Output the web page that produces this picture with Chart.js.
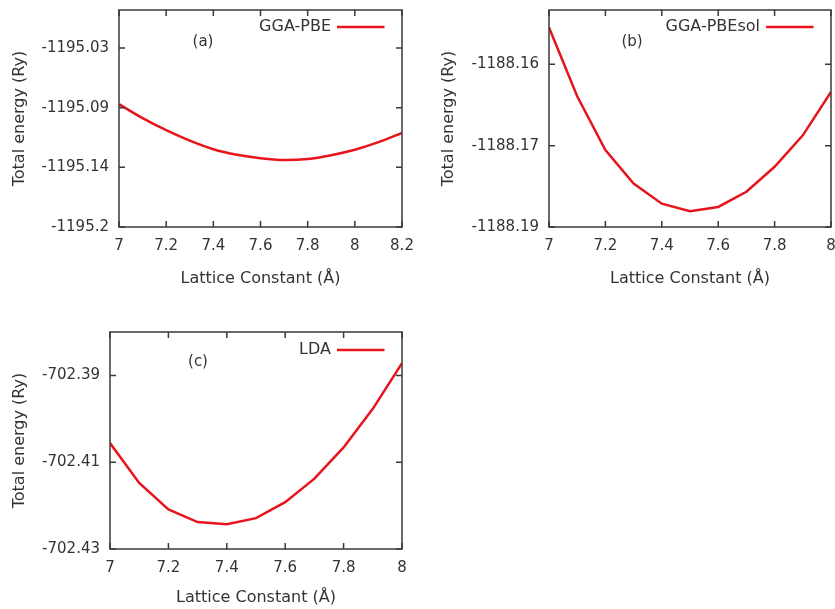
<!DOCTYPE html>
<html>
<head>
    <title>Total energy vs lattice constant</title>
    <script src="https://cdn.jsdelivr.net/npm/chart.js"></script>
    <style>
        html, body { margin: 0; padding: 0; background: #fff; overflow: hidden; width: 835px; height: 609px; }
        canvas { position: absolute; }
    </style>
</head>
<body>
<canvas id="chartA" width="420" height="300" style="left:0;top:0"></canvas>
<canvas id="chartB" width="440" height="300" style="left:420px;top:0"></canvas>
<canvas id="chartC" width="420" height="289" style="left:0;top:320px"></canvas>
<script>
    // (a) GGA-PBE
    const latticeA = [7.0, 7.1, 7.2, 7.3, 7.4, 7.5, 7.6, 7.7, 7.8, 7.9, 8.0, 8.1, 8.2];
    const energyA = [-1195.0868, -1195.0997, -1195.1108, -1195.1204, -1195.1283, -1195.1334, -1195.1366,
        -1195.1383, -1195.1373, -1195.1338, -1195.1288, -1195.1218, -1195.1132];
    const xTicksA = [7, 7.2, 7.4, 7.6, 7.8, 8, 8.2];
    const xLabelsA = ['7', '7.2', '7.4', '7.6', '7.8', '8', '8.2'];
    const yTicksA = [-1195.2, -1195.145, -1195.09, -1195.035];
    const yLabelsA = ['-1195.2', '-1195.14', '-1195.09', '-1195.03'];

    // (b) GGA-PBEsol
    const latticeB = [7.0, 7.1, 7.2, 7.3, 7.4, 7.5, 7.6, 7.7, 7.8, 7.9, 8.0];
    const energyB = [-1188.1532, -1188.1659, -1188.1758, -1188.1820, -1188.1857, -1188.1871,
        -1188.1863, -1188.1835, -1188.1789, -1188.1731, -1188.1651];
    const xTicksB = [7, 7.2, 7.4, 7.6, 7.8, 8];
    const xLabelsB = ['7', '7.2', '7.4', '7.6', '7.8', '8'];
    const yTicksB = [-1188.19, -1188.175, -1188.16];
    const yLabelsB = ['-1188.19', '-1188.17', '-1188.16'];

    // (c) LDA
    const latticeC = [7.0, 7.1, 7.2, 7.3, 7.4, 7.5, 7.6, 7.7, 7.8, 7.9, 8.0];
    const energyC = [-702.4056, -702.4148, -702.4209, -702.4238, -702.4243, -702.4229,
        -702.4192, -702.4138, -702.4066, -702.3977, -702.3872];
    const xTicksC = [7, 7.2, 7.4, 7.6, 7.8, 8];
    const xLabelsC = ['7', '7.2', '7.4', '7.6', '7.8', '8'];
    const yTicksC = [-702.43, -702.41, -702.39];
    const yLabelsC = ['-702.43', '-702.41', '-702.39'];

    const TEXT = '#333333';
    const FONT = {family: 'DejaVu Sans', size: 15};
    const TITLE_FONT = {family: 'DejaVu Sans', size: 16};

    // gnuplot style box: frame, inward ticks on all sides, panel tag and key
    const framePlugin = {
        id: 'frame',
        afterDatasetsDraw(chart, args, opts) {
            const {ctx, chartArea: a, scales: {x, y}} = chart;
            ctx.save();
            ctx.strokeStyle = '#3a3a3a';
            ctx.lineWidth = 1.5;
            ctx.strokeRect(a.left, a.top, a.width, a.height);
            ctx.beginPath();
            x.ticks.forEach(t => {
                const px = x.getPixelForValue(t.value);
                ctx.moveTo(px, a.bottom); ctx.lineTo(px, a.bottom - 6);
                ctx.moveTo(px, a.top); ctx.lineTo(px, a.top + 6);
            });
            y.ticks.forEach(t => {
                const py = y.getPixelForValue(t.value);
                ctx.moveTo(a.left, py); ctx.lineTo(a.left + 6, py);
                ctx.moveTo(a.right, py); ctx.lineTo(a.right - 6, py);
            });
            ctx.stroke();

            ctx.fillStyle = TEXT;
            ctx.font = '15px "DejaVu Sans"';
            ctx.textBaseline = 'middle';
            ctx.textAlign = 'center';
            ctx.fillText(opts.tag, a.left + opts.tagDx, a.top + opts.tagDy);

            const ds = chart.data.datasets[0];
            const ly = a.top + opts.keyDy;
            ctx.font = '16px "DejaVu Sans"';
            ctx.textAlign = 'right';
            ctx.fillText(ds.label, a.right - 71, ly);
            ctx.strokeStyle = ds.borderColor;
            ctx.lineWidth = 2.5;
            ctx.beginPath();
            ctx.moveTo(a.right - 65, ly);
            ctx.lineTo(a.right - 17.5, ly);
            ctx.stroke();
            ctx.restore();
        }
    };

    function createPanel(id, label, xs, ys, xTicks, xLabels, yTicks, yLabels, yMin, yMax, box) {
        new Chart(document.getElementById(id).getContext('2d'), {
            type: 'line',
            data: {
                datasets: [{
                    label: label,
                    data: xs.map((v, i) => ({x: v, y: ys[i]})),
                    borderColor: '#e8141c',
                    borderWidth: 2.5,
                    pointRadius: 0,
                    fill: false,
                    tension: box.tension
                }]
            },
            options: {
                responsive: false,
                animation: false,
                layout: {padding: {top: box.top, right: box.right, left: 0, bottom: 0}},
                plugins: {
                    legend: {display: false},
                    tooltip: {enabled: false},
                    frame: {tag: box.tag, tagDx: box.tagDx, tagDy: box.tagDy, keyDy: box.keyDy}
                },
                scales: {
                    x: {
                        type: 'linear',
                        min: xTicks[0],
                        max: xTicks[xTicks.length - 1],
                        grid: {display: false, drawTicks: false},
                        border: {display: false},
                        afterBuildTicks: s => { s.ticks = xTicks.map(v => ({value: v})); },
                        afterFit: s => {
                            s.height = box.xHeight;
                            s.paddingLeft = 0;
                            s.paddingRight = 0;
                        },
                        ticks: {
                            font: FONT, color: TEXT, padding: 10, maxRotation: 0,
                            callback: (v, i) => xLabels[i]
                        },
                        title: {
                            display: true, text: 'Lattice Constant (Å)',
                            font: TITLE_FONT, color: TEXT, padding: {top: 0, bottom: box.xTitlePad}
                        }
                    },
                    y: {
                        type: 'linear',
                        min: yMin,
                        max: yMax,
                        grid: {display: false, drawTicks: false},
                        border: {display: false},
                        afterBuildTicks: s => { s.ticks = yTicks.map(v => ({value: v})); },
                        afterFit: s => {
                            s.width = box.yWidth;
                            s.paddingTop = 0;
                            s.paddingBottom = 0;
                        },
                        ticks: {
                            font: FONT, color: TEXT, padding: 10,
                            callback: (v, i) => yLabels[i]
                        },
                        title: {
                            display: true, text: 'Total energy (Ry)',
                            font: TITLE_FONT, color: TEXT, padding: {top: box.yTitlePad, bottom: 0}
                        }
                    }
                }
            },
            plugins: [framePlugin]
        });
    }

    createPanel('chartA', 'GGA-PBE', latticeA, energyA, xTicksA, xLabelsA, yTicksA, yLabelsA, -1195.2, -1195.0,
        {top: 10, right: 18, yWidth: 119, xHeight: 73, yTitlePad: 10, xTitlePad: 12,
         tag: '(a)', tagDx: 84, tagDy: 32, keyDy: 17, tension: 0.3});
    createPanel('chartB', 'GGA-PBEsol', latticeB, energyB, xTicksB, xLabelsB, yTicksB, yLabelsB, -1188.19, -1188.15,
        {top: 10, right: 29, yWidth: 129, xHeight: 73, yTitlePad: 19, xTitlePad: 12,
         tag: '(b)', tagDx: 83, tagDy: 32, keyDy: 17, tension: 0});
    createPanel('chartC', 'LDA', latticeC, energyC, xTicksC, xLabelsC, yTicksC, yLabelsC, -702.43, -702.38,
        {top: 12, right: 18, yWidth: 110, xHeight: 60, yTitlePad: 10, xTitlePad: 2,
         tag: '(c)', tagDx: 88, tagDy: 30, keyDy: 18, tension: 0});
</script>
</body>
</html>
